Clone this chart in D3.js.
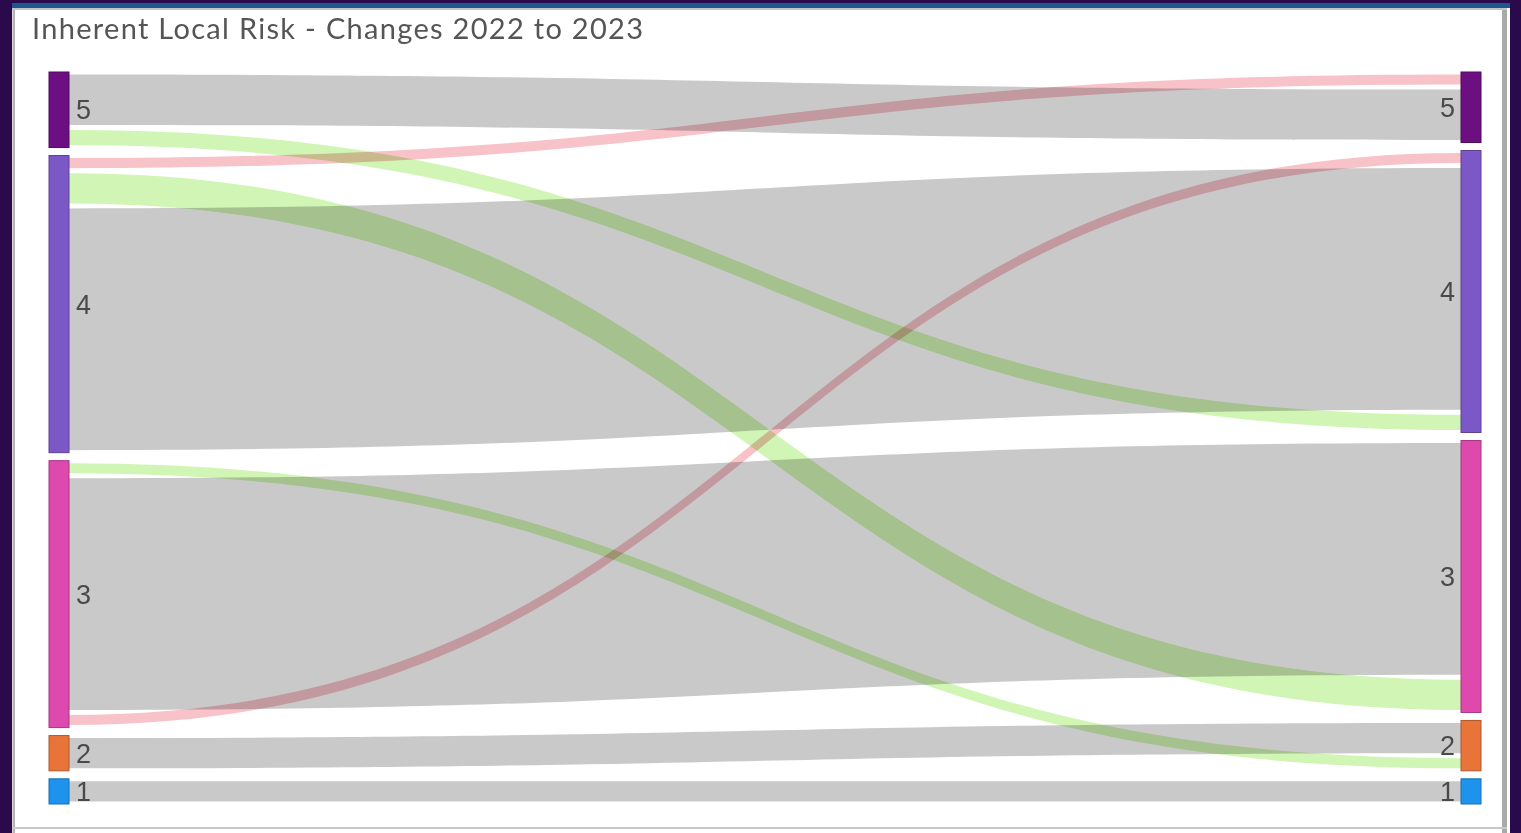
<!DOCTYPE html>
<html>
<head>
<meta charset="utf-8">
<script src="https://cdn.jsdelivr.net/npm/d3@7"></script>
<style>
  html, body { margin: 0; padding: 0; background: #2a0a4a; }
  svg { display: block; }
</style>
</head>
<body>
<svg id="chart" width="1521" height="833"></svg>
<script>
// ---- data ----
const titleText = "Inherent Local Risk - Changes 2022 to 2023";
const levels = ["5", "4", "3", "2", "1"];            // node order top -> bottom
const linkSource = ["5", "5", "4", "4", "4", "3", "3", "3", "2", "1"];
const linkTarget = ["5", "4", "5", "3", "4", "2", "3", "4", "2", "1"];
const linkValue  = [11, 4, 3, 7, 49, 3, 47, 3, 7, 5];

// ---- styles ----
const nodeColor = d3.scaleOrdinal()
  .domain(levels)
  .range(["#6c0f80", "#7c58c6", "#de49ad", "#e8743a", "#1e93ee"]);
const changeColor = { same: "#c9c9c9", down: "#d0f5b4", up: "#f7c2c8" };

const W = 1521, H = 833;
const svg = d3.select("#chart");

// background + panel
svg.append("rect").attr("width", W).attr("height", H).attr("fill", "#2a0a4a");
svg.append("rect").attr("x", 12).attr("y", 3).attr("width", 1498).attr("height", 840)
  .attr("fill", "#ffffff");
svg.append("rect").attr("x", 12).attr("y", 3).attr("width", 1498).attr("height", 5)
  .attr("fill", "#1d5792");
svg.append("rect").attr("x", 12.5).attr("y", 8).attr("width", 2.5).attr("height", 830)
  .attr("fill", "#b4b4b4");
svg.append("rect").attr("x", 1502).attr("y", 8).attr("width", 5).attr("height", 830)
  .attr("fill", "#a9a9a9");
svg.append("rect").attr("x", 12).attr("y", 8).attr("width", 1495).attr("height", 2)
  .attr("fill", "#c4c4c4");
svg.append("rect").attr("x", 12).attr("y", 827).attr("width", 1495).attr("height", 2)
  .attr("fill", "#c8c8c8");

svg.append("text")
  .attr("x", 32).attr("y", 39)
  .attr("font-family", "Lato, 'Open Sans', sans-serif")
  .attr("font-size", 29)
  .attr("letter-spacing", 1.3)
  .attr("fill", "#555555")
  .text(titleText);

// ---- layout ----
const links = linkSource.map((s, i) => ({
  source: s, target: linkTarget[i], value: linkValue[i], idx: i,
  type: +linkTarget[i] > +s ? "up" : (+linkTarget[i] < +s ? "down" : "same")
}));

const yTop = 72, yBottom = 804, pad = 8, nodeW = 20;
const xLeft = 49, xRight = 1461;
const total = d3.sum(linkValue);
const vScale = d3.scaleLinear().domain([0, total]).range([0, (yBottom - yTop) - pad * (levels.length - 1)]);

function buildColumn(side) {
  const nodes = [];
  let y = yTop;
  levels.forEach(l => {
    const v = d3.sum(links.filter(d => (side === "L" ? d.source : d.target) === l), d => d.value);
    const h = vScale(v);
    nodes.push({ level: l, y0: y, y1: y + h, value: v, side });
    y += h + pad;
  });
  return nodes;
}
const leftNodes = buildColumn("L");
const rightNodes = buildColumn("R");

leftNodes.forEach(n => {
  let y = n.y0;
  links.filter(d => d.source === n.level).forEach(d => {
    d.sy0 = y; d.sy1 = y + vScale(d.value); y = d.sy1;
  });
});
rightNodes.forEach(n => {
  let y = n.y0;
  links.filter(d => d.target === n.level)
    .sort((a, b) => (+a.source) - (+b.source))
    .forEach(d => { d.ty0 = y; d.ty1 = y + vScale(d.value); y = d.ty1; });
});

const inset = 2.5;
function linkPath(d) {
  const x0 = xLeft + nodeW, x1 = xRight, xm = (x0 + x1) / 2;
  const s0 = d.sy0 + inset, s1 = d.sy1 - inset, t0 = d.ty0 + inset, t1 = d.ty1 - inset;
  return `M${x0},${s0}C${xm},${s0} ${xm},${t0} ${x1},${t0}` +
         `L${x1},${t1}C${xm},${t1} ${xm},${s1} ${x0},${s1}Z`;
}

const gLinks = svg.append("g");
gLinks.selectAll("path.same")
  .data(links.filter(d => d.type === "same"))
  .join("path")
  .attr("d", linkPath)
  .attr("fill", changeColor.same);
gLinks.selectAll("path.change")
  .data(links.filter(d => d.type !== "same"))
  .join("path")
  .attr("d", linkPath)
  .attr("fill", d => changeColor[d.type])
  .style("mix-blend-mode", "multiply");

const gNodes = svg.append("g");
gNodes.selectAll("rect.l").data(leftNodes).join("rect")
  .attr("x", xLeft).attr("y", d => d.y0)
  .attr("width", nodeW).attr("height", d => d.y1 - d.y0)
  .attr("fill", d => nodeColor(d.level))
  .attr("stroke", d => d3.color(nodeColor(d.level)).darker(0.8))
  .attr("stroke-width", 1);
gNodes.selectAll("rect.r").data(rightNodes).join("rect")
  .attr("x", xRight).attr("y", d => d.y0)
  .attr("width", nodeW).attr("height", d => d.y1 - d.y0)
  .attr("fill", d => nodeColor(d.level))
  .attr("stroke", d => d3.color(nodeColor(d.level)).darker(0.8))
  .attr("stroke-width", 1);

const gLab = svg.append("g")
  .attr("font-family", "'Liberation Sans', Arial, sans-serif")
  .attr("font-size", 27)
  .attr("fill", "#4a4a4a");
gLab.selectAll("text.l").data(leftNodes).join("text")
  .attr("x", xLeft + nodeW + 7)
  .attr("y", d => (d.y0 + d.y1) / 2)
  .attr("dy", "0.36em")
  .text(d => d.level);
gLab.selectAll("text.r").data(rightNodes).join("text")
  .attr("x", xRight - 6)
  .attr("y", d => (d.y0 + d.y1) / 2)
  .attr("dy", "0.36em")
  .attr("text-anchor", "end")
  .text(d => d.level);
</script>
</body>
</html>
